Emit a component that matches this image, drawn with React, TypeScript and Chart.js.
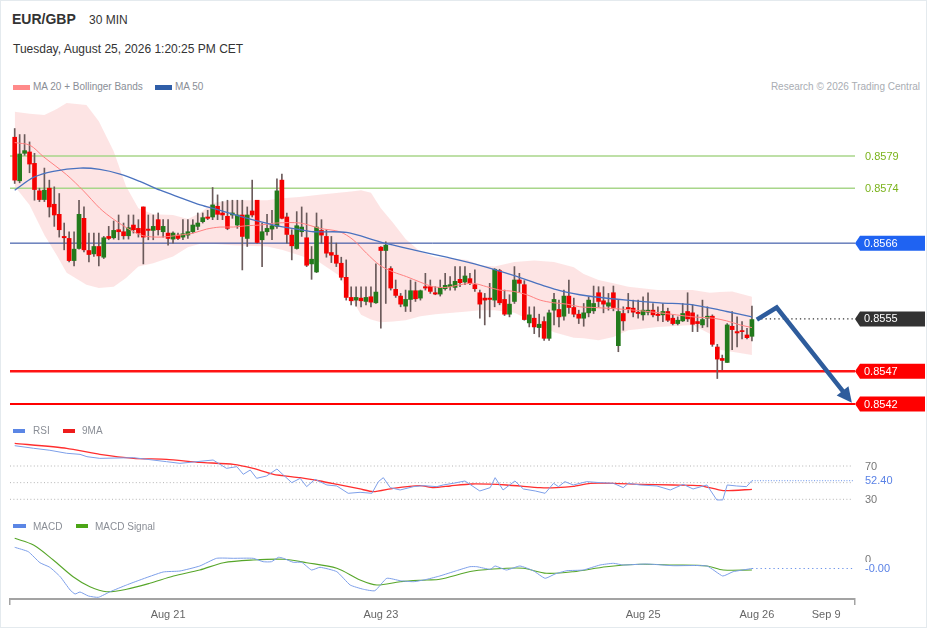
import React, { useEffect, useRef } from "react";
import { Chart, registerables } from "chart.js";

Chart.register(...registerables);

const FONT = '"Liberation Sans", Arial, Helvetica, sans-serif';
Chart.defaults.font.family = FONT;

// ---------------- DATA ----------------
const candleOpen = [
  0.85818, 0.85753, 0.85794, 0.85796, 0.85779, 0.85738, 0.85725, 0.85742, 0.85718, 0.85703,
  0.85670, 0.85667, 0.85634, 0.85652, 0.85697, 0.85649, 0.85644, 0.85655, 0.85639, 0.85670,
  0.85668, 0.85680, 0.85677, 0.85671, 0.85687, 0.85682, 0.85714, 0.85681, 0.85679, 0.85695,
  0.85677, 0.85675, 0.85666, 0.85672, 0.85669, 0.85672, 0.85677, 0.85685, 0.85692, 0.85699,
  0.85699, 0.85715, 0.85705, 0.85700, 0.85702, 0.85687, 0.85702, 0.85667, 0.85708, 0.85724,
  0.85665, 0.85677, 0.85681, 0.85685, 0.85754, 0.85699, 0.85672, 0.85652, 0.85677, 0.85668,
  0.85629, 0.85617, 0.85679, 0.85670, 0.85646, 0.85642, 0.85630, 0.85609, 0.85579, 0.85575,
  0.85578, 0.85573, 0.85580, 0.85571, 0.85654, 0.85649, 0.85622, 0.85591, 0.85581, 0.85566,
  0.85576, 0.85589, 0.85578, 0.85595, 0.85595, 0.85586, 0.85584, 0.85592, 0.85595, 0.85594,
  0.85606, 0.85602, 0.85607, 0.85598, 0.85586, 0.85578, 0.85578, 0.85575, 0.85619, 0.85576,
  0.85554, 0.85573, 0.85605, 0.85598, 0.85541, 0.85548, 0.85534, 0.85543, 0.85518, 0.85560,
  0.85561, 0.85551, 0.85581, 0.85564, 0.85554, 0.85548, 0.85556, 0.85559, 0.85586, 0.85574,
  0.85566, 0.85586, 0.85507, 0.85555, 0.85564, 0.85563, 0.85557, 0.85553, 0.85557, 0.85560,
  0.85554, 0.85553, 0.85558, 0.85548, 0.85540, 0.85544, 0.85558, 0.85556, 0.85543, 0.85538,
  0.85548, 0.85551, 0.85505, 0.85488, 0.85482, 0.85536, 0.85528, 0.85529, 0.85523, 0.85521,
];
const candleHigh = [
  0.85831, 0.85822, 0.85822, 0.85811, 0.85794, 0.85742, 0.85772, 0.85754, 0.85744, 0.85734,
  0.85690, 0.85677, 0.85677, 0.85724, 0.85714, 0.85675, 0.85675, 0.85675, 0.85670, 0.85685,
  0.85693, 0.85702, 0.85690, 0.85702, 0.85702, 0.85695, 0.85714, 0.85702, 0.85702, 0.85705,
  0.85695, 0.85695, 0.85677, 0.85675, 0.85695, 0.85695, 0.85695, 0.85705, 0.85705, 0.85709,
  0.85743, 0.85732, 0.85722, 0.85724, 0.85724, 0.85724, 0.85724, 0.85714, 0.85754, 0.85724,
  0.85690, 0.85703, 0.85709, 0.85756, 0.85763, 0.85705, 0.85680, 0.85707, 0.85714, 0.85705,
  0.85655, 0.85705, 0.85695, 0.85680, 0.85670, 0.85660, 0.85639, 0.85635, 0.85595, 0.85595,
  0.85595, 0.85595, 0.85595, 0.85629, 0.85655, 0.85662, 0.85625, 0.85605, 0.85585, 0.85590,
  0.85605, 0.85602, 0.85590, 0.85615, 0.85605, 0.85595, 0.85605, 0.85615, 0.85610, 0.85625,
  0.85625, 0.85625, 0.85615, 0.85620, 0.85590, 0.85585, 0.85600, 0.85622, 0.85621, 0.85590,
  0.85583, 0.85625, 0.85615, 0.85604, 0.85565, 0.85565, 0.85554, 0.85550, 0.85560, 0.85585,
  0.85575, 0.85590, 0.85605, 0.85578, 0.85560, 0.85570, 0.85580, 0.85596, 0.85595, 0.85595,
  0.85585, 0.85596, 0.85576, 0.85565, 0.85585, 0.85575, 0.85575, 0.85580, 0.85586, 0.85570,
  0.85565, 0.85570, 0.85563, 0.85553, 0.85550, 0.85570, 0.85586, 0.85568, 0.85553, 0.85575,
  0.85565, 0.85553, 0.85509, 0.85493, 0.85540, 0.85558, 0.85550, 0.85543, 0.85533, 0.85566,
];
const candleLow = [
  0.85749, 0.85750, 0.85791, 0.85765, 0.85724, 0.85722, 0.85722, 0.85699, 0.85685, 0.85669,
  0.85650, 0.85632, 0.85626, 0.85651, 0.85647, 0.85632, 0.85640, 0.85626, 0.85637, 0.85665,
  0.85666, 0.85665, 0.85666, 0.85666, 0.85675, 0.85669, 0.85629, 0.85665, 0.85665, 0.85672,
  0.85669, 0.85657, 0.85660, 0.85665, 0.85665, 0.85667, 0.85675, 0.85680, 0.85690, 0.85695,
  0.85695, 0.85695, 0.85695, 0.85680, 0.85697, 0.85682, 0.85620, 0.85655, 0.85699, 0.85660,
  0.85625, 0.85672, 0.85665, 0.85682, 0.85696, 0.85660, 0.85635, 0.85651, 0.85670, 0.85625,
  0.85606, 0.85616, 0.85660, 0.85639, 0.85631, 0.85625, 0.85605, 0.85575, 0.85568, 0.85566,
  0.85565, 0.85568, 0.85565, 0.85570, 0.85533, 0.85570, 0.85590, 0.85579, 0.85565, 0.85558,
  0.85558, 0.85573, 0.85575, 0.85590, 0.85585, 0.85583, 0.85581, 0.85590, 0.85590, 0.85590,
  0.85595, 0.85598, 0.85598, 0.85588, 0.85548, 0.85538, 0.85550, 0.85565, 0.85568, 0.85552,
  0.85550, 0.85570, 0.85587, 0.85545, 0.85535, 0.85525, 0.85520, 0.85515, 0.85515, 0.85538,
  0.85535, 0.85545, 0.85555, 0.85550, 0.85540, 0.85536, 0.85550, 0.85555, 0.85565, 0.85556,
  0.85560, 0.85559, 0.85498, 0.85530, 0.85556, 0.85550, 0.85548, 0.85545, 0.85553, 0.85550,
  0.85544, 0.85543, 0.85543, 0.85538, 0.85538, 0.85543, 0.85543, 0.85528, 0.85528, 0.85534,
  0.85535, 0.85506, 0.85458, 0.85471, 0.85482, 0.85501, 0.85505, 0.85517, 0.85517, 0.85514,
];
const candleClose = [
  0.85754, 0.85793, 0.85798, 0.85778, 0.85740, 0.85725, 0.85739, 0.85714, 0.85702, 0.85680,
  0.85668, 0.85634, 0.85651, 0.85703, 0.85650, 0.85643, 0.85655, 0.85641, 0.85668, 0.85667,
  0.85679, 0.85677, 0.85671, 0.85683, 0.85680, 0.85675, 0.85669, 0.85679, 0.85685, 0.85680,
  0.85685, 0.85667, 0.85675, 0.85667, 0.85674, 0.85677, 0.85687, 0.85690, 0.85698, 0.85697,
  0.85717, 0.85703, 0.85702, 0.85682, 0.85705, 0.85702, 0.85670, 0.85702, 0.85702, 0.85661,
  0.85677, 0.85682, 0.85686, 0.85738, 0.85697, 0.85673, 0.85656, 0.85686, 0.85684, 0.85627,
  0.85636, 0.85684, 0.85672, 0.85645, 0.85642, 0.85630, 0.85609, 0.85579, 0.85574, 0.85579,
  0.85574, 0.85579, 0.85572, 0.85587, 0.85649, 0.85657, 0.85593, 0.85582, 0.85569, 0.85576,
  0.85589, 0.85577, 0.85589, 0.85593, 0.85588, 0.85584, 0.85594, 0.85597, 0.85598, 0.85603,
  0.85601, 0.85611, 0.85600, 0.85592, 0.85569, 0.85575, 0.85576, 0.85621, 0.85571, 0.85554,
  0.85569, 0.85605, 0.85600, 0.85546, 0.85553, 0.85535, 0.85539, 0.85518, 0.85556, 0.85576,
  0.85550, 0.85581, 0.85564, 0.85554, 0.85548, 0.85556, 0.85575, 0.85570, 0.85573, 0.85569,
  0.85571, 0.85564, 0.85558, 0.85544, 0.85562, 0.85557, 0.85555, 0.85560, 0.85560, 0.85553,
  0.85552, 0.85558, 0.85545, 0.85540, 0.85545, 0.85555, 0.85547, 0.85539, 0.85540, 0.85546,
  0.85551, 0.85509, 0.85487, 0.85485, 0.85538, 0.85531, 0.85526, 0.85528, 0.85519, 0.85546,
];

const ma20Idx = [0, 3.1, 5.8, 10.5, 13.9, 17.2, 19.9, 23.3, 26, 29.4, 33.4, 36.1, 38.8, 41.5, 44.2, 46.9, 49.6, 52.9, 57.7, 61.7, 65.7, 68.4, 71.1, 73.8, 76.5, 79.2, 81.9, 84.6, 87.3, 90, 92.7, 95.4, 98, 100.8, 103.5, 106.2, 108.9, 111.6, 114.2, 117, 123.7, 130.4, 137.1, 141.2, 143.9, 146.6, 149];
const ma20Val = [0.85810, 0.85806, 0.85789, 0.85762, 0.85738, 0.85712, 0.85696, 0.85680, 0.85671, 0.85669, 0.85672, 0.85675, 0.85681, 0.85684, 0.85684, 0.85686, 0.85687, 0.85690, 0.85690, 0.85682, 0.85677, 0.85665, 0.85645, 0.85627, 0.85617, 0.85610, 0.85602, 0.85595, 0.85594, 0.85598, 0.85600, 0.85595, 0.85590, 0.85588, 0.85583, 0.85575, 0.85571, 0.85569, 0.85565, 0.85564, 0.85561, 0.85556, 0.85550, 0.85548, 0.85544, 0.85538, 0.85534];

const ma50Idx = [0, 3.8, 7.8, 13.2, 17.2, 21.3, 25.3, 29.4, 33.4, 37.5, 41.5, 45.6, 49.6, 53.6, 57.7, 60.4, 67.1, 73.8, 80.6, 87.3, 94, 100.8, 107.5, 110.2, 114.2, 117, 123.7, 130.4, 137.1, 143.9, 149];
const ma50Val = [0.85739, 0.85758, 0.85767, 0.85772, 0.85770, 0.85763, 0.85752, 0.85739, 0.85728, 0.85717, 0.85709, 0.85700, 0.85692, 0.85685, 0.85680, 0.85677, 0.85676, 0.85662, 0.85650, 0.85639, 0.85627, 0.85612, 0.85595, 0.85589, 0.85583, 0.85580, 0.85575, 0.85571, 0.85568, 0.85558, 0.85550];

const bandIdx = [0, 3, 6, 8.5, 10.5, 14.5, 17, 20, 22.5, 25, 28, 32, 35, 37.5, 40, 44, 51, 54, 57.5, 61.5, 65.5, 68, 70, 72, 74, 76.5, 79, 82, 85, 88.5, 91.5, 94, 97, 101, 105, 109, 113, 115, 118, 121, 124, 130, 137, 140.5, 142.5, 145, 149];
const bandUpper = [0.85856, 0.85853, 0.85851, 0.85860, 0.85869, 0.85866, 0.85842, 0.85797, 0.85745, 0.85712, 0.85703, 0.85702, 0.85696, 0.85705, 0.85720, 0.85724, 0.85724, 0.85727, 0.85729, 0.85732, 0.85735, 0.85737, 0.85739, 0.85735, 0.85712, 0.85690, 0.85666, 0.85647, 0.85639, 0.85637, 0.85635, 0.85627, 0.85625, 0.85632, 0.85634, 0.85632, 0.85624, 0.85614, 0.85605, 0.85600, 0.85595, 0.85590, 0.85590, 0.85586, 0.85587, 0.85588, 0.85580];
const bandLower = [0.85745, 0.85717, 0.85672, 0.85642, 0.85616, 0.85598, 0.85593, 0.85595, 0.85608, 0.85625, 0.85630, 0.85640, 0.85654, 0.85659, 0.85659, 0.85657, 0.85655, 0.85650, 0.85642, 0.85632, 0.85612, 0.85578, 0.85553, 0.85546, 0.85542, 0.85543, 0.85545, 0.85551, 0.85554, 0.85556, 0.85558, 0.85560, 0.85560, 0.85556, 0.85542, 0.85527, 0.85519, 0.85518, 0.85515, 0.85520, 0.85530, 0.85535, 0.85538, 0.85525, 0.85501, 0.85498, 0.85493];

const levelValues = [0.8579, 0.85742, 0.8566, 0.85547, 0.85469, 0.8542];
const levelLabels = ["0.8579", "0.8574", "0.8566", "0.8555", "0.8547", "0.8542"];

const arrowIdx = [150, 154, 169.2];
const arrowPrice = [0.85546, 0.85564, 0.85422];

const rsiIdx = [0, 3.8, 7.1, 10.5, 13.2, 14.6, 17.2, 24, 30.7, 33.4, 40.1, 42.8, 44.9, 46.2, 47.6, 48.9, 50.9, 53, 54.3, 56, 57.7, 59, 60.7, 63.1, 65.1, 67.4, 69.8, 72.2, 73.5, 74.5, 75.9, 77.9, 80.6, 82.6, 85.3, 86.6, 88.6, 91, 94, 96.1, 97.1, 98.7, 101.1, 102.8, 105.2, 107.2, 108.9, 109.9, 111.2, 112.9, 115.6, 118.3, 121, 123, 124, 126.4, 129.8, 132.5, 135.1, 137.1, 139.9, 141.9, 143.1, 144, 145.9, 147.9, 149];
const rsiVal = [94.4, 91.3, 88.9, 85.3, 84, 81.2, 79.2, 80, 75.2, 73.2, 77.2, 67.2, 69.2, 60, 65.2, 55.2, 58, 66.4, 59.2, 50, 55.2, 45.2, 54, 47.2, 46, 37.2, 38.4, 37.2, 51.2, 56, 44, 41.2, 45.2, 46.4, 45.2, 47.2, 49.2, 52, 40, 44, 56, 41.2, 52, 42.4, 40, 37.2, 49.2, 45.2, 51.2, 47.2, 51.2, 50, 49.2, 44, 49.2, 47.2, 46, 41.2, 48, 42.4, 47.2, 29.2, 29.2, 47.2, 46, 45.2, 52.4];
const rsiMaIdx = [0, 10.5, 17.2, 24, 30.7, 37.4, 44.2, 48.2, 52.3, 57.7, 61.7, 65.7, 69.8, 72.5, 76.5, 81.9, 84.6, 88, 92.3, 99.4, 106.2, 109.5, 112.9, 116.3, 121, 126.4, 133.1, 138.5, 143.2, 149];
const rsiMaVal = [97.2, 91.3, 84, 79.2, 78, 74.4, 72, 67.2, 60, 56, 52, 47.2, 42.4, 39.2, 43.2, 46.4, 44, 46, 48.4, 47.2, 44, 44, 45.6, 49.2, 49.2, 48, 47.2, 46.4, 40.4, 42];
const rsiLevels = [70, 50, 30];
const rsiLast = 52.4;

const macdIdx = [0, 2.75, 5.1, 7.1, 9.2, 11.2, 12.2, 13.2, 14.9, 16.9, 19.3, 22.6, 25.3, 30, 33.4, 37.4, 40.8, 44.2, 48.2, 50.2, 51.9, 53.3, 54.3, 56.3, 58, 60, 61.7, 65.1, 67.8, 70.5, 72.8, 75.2, 77.9, 80.6, 83.3, 85.9, 89.3, 92, 93.4, 96.1, 97.1, 99.4, 102.1, 104.8, 107.2, 109.2, 111.6, 114.9, 118.3, 121, 123, 127.7, 133.1, 139.9, 143.1, 145.2, 149];
const macdVal = [0.000137, 0.000093, -0.000017, -0.000063, -0.000157, -0.00029, -0.00033, -0.00031, -0.00035, -0.000363, -0.000307, -0.00024, -0.00019, -0.00011, -0.0001, -0.00005, 0.000027, 0.000027, 0.000027, -0.000007, -0.000007, 0.000037, 0.000027, -0.000013, -0.000013, -0.00009, -0.000063, -0.000107, -0.00024, -0.000283, -0.000297, -0.000173, -0.000197, -0.000207, -0.000183, -0.00015, -0.000097, -0.000057, -0.000057, -0.000083, -0.00005, -0.00009, -0.00005, -0.000097, -0.000173, -0.00013, -0.000097, -0.00009, -0.00004, -0.000023, -0.00004, -0.00003, -0.000047, -0.00005, -0.00015, -0.000107, -0.000075];
const signalIdx = [0, 3.8, 7.8, 11.8, 15.2, 18.6, 22.6, 27.3, 32.1, 37.4, 42.2, 48.2, 54.3, 59, 65.1, 69.8, 73.2, 77.9, 83.3, 85.9, 92.7, 99.4, 102.8, 107.5, 112.9, 119.6, 126.4, 133.1, 139.9, 143.2, 149];
const signalVal = [0.000227, 0.00016, 0.00001, -0.000157, -0.000257, -0.000307, -0.000283, -0.000223, -0.00015, -0.00009, -0.000017, 0.00001, 0.000017, -0.000017, -0.000073, -0.00019, -0.00024, -0.000207, -0.00019, -0.000183, -0.0001, -0.000073, -0.000073, -0.000123, -0.000107, -0.000057, -0.000033, -0.00004, -0.00005, -0.00009, -0.00009];
const macdLast = -0.000075;

const xTickIdx = [31, 74, 127, 150, 164];
const xTickLabels = ["Aug 21", "Aug 23", "Aug 25", "Aug 26", "Sep 9"];

// ---------------- LAYOUT / STYLE ----------------
const X_MIN = -0.95;
const X_MAX = 169.83;
const X_LINE_END = 169.4;
const PRICE_MIN = 0.854036;
const PRICE_MAX = 0.85881;
const RSI_MIN = 17.15;
const RSI_MAX = 125.26;
const MACD_MIN = -0.00038;
const MACD_MAX = 0.00031;
const PAD = { left: 10, right: 74 };
const ARROW_COLOR = "#2e5c9c";
const UP_COLOR = "#237a1c";
const DOWN_COLOR = "#f50000";
const levelStyles = [
  { line: "#a8d68a", width: 1.5, text: "#7bb31c" },
  { line: "#a8d68a", width: 1.5, text: "#7bb31c" },
  { line: "#1d3f9a", width: 1, tag: "#1f63f2" },
  { line: "#333333", width: 1.2, tag: "#333333", dotted: true },
  { line: "#ff1414", width: 2.5, tag: "#ff0000" },
  { line: "#ff0000", width: 2.2, tag: "#ff0000" },
];

const pts = (xs: number[], ys: number[]) => xs.map((x, i) => ({ x, y: ys[i] }));

const tagsPlugin = {
  id: "tags",
  afterDatasetsDraw(chart: any, _a: any, opts: any) {
    const items = (opts && opts.items) || [];
    const { ctx, chartArea, scales } = chart;
    const ys = scales.y;
    ctx.save();
    ctx.font = `11px ${FONT}`;
    ctx.textBaseline = "middle";
    ctx.textAlign = "left";
    for (const it of items) {
      const py = ys.getPixelForValue(it.value);
      const x0 = chartArea.right;
      if (it.tag) {
        const x1 = chart.width - 4;
        ctx.fillStyle = it.tag;
        ctx.beginPath();
        ctx.moveTo(x0, py);
        ctx.lineTo(x0 + 5, py - 7.5);
        ctx.lineTo(x1, py - 7.5);
        ctx.lineTo(x1, py + 7.5);
        ctx.lineTo(x0 + 5, py + 7.5);
        ctx.closePath();
        ctx.fill();
        ctx.fillStyle = "#ffffff";
        ctx.fillText(it.text, x0 + 9, py + 0.5);
      } else {
        const tx = x0 + 10;
        if (it.bg) {
          const w = ctx.measureText(it.text).width;
          ctx.fillStyle = it.bg;
          ctx.fillRect(tx - 2, py - 6.5, w + 4, 13);
        }
        ctx.fillStyle = it.color;
        ctx.fillText(it.text, tx, py + 0.5);
      }
    }
    ctx.restore();
  },
};

const arrowPlugin = {
  id: "arrow",
  afterDatasetsDraw(chart: any) {
    const { ctx, scales } = chart;
    const p = arrowIdx.map((v, i) => [scales.x.getPixelForValue(v), scales.y.getPixelForValue(arrowPrice[i])]);
    const n = p.length;
    const [tx, ty] = p[n - 1];
    const [px, py] = p[n - 2];
    const L = Math.hypot(tx - px, ty - py);
    const ux = (tx - px) / L;
    const uy = (ty - py) / L;
    const head = 15;
    const half = 7.5;
    const bx = tx - ux * head;
    const by = ty - uy * head;
    ctx.save();
    ctx.strokeStyle = ARROW_COLOR;
    ctx.lineWidth = 4.5;
    ctx.lineJoin = "miter";
    ctx.lineCap = "butt";
    ctx.beginPath();
    ctx.moveTo(p[0][0], p[0][1]);
    for (let i = 1; i < n - 1; i++) ctx.lineTo(p[i][0], p[i][1]);
    ctx.lineTo(bx + ux * 2, by + uy * 2);
    ctx.stroke();
    ctx.fillStyle = ARROW_COLOR;
    ctx.beginPath();
    ctx.moveTo(tx, ty);
    ctx.lineTo(bx - uy * half, by + ux * half);
    ctx.lineTo(bx + uy * half, by - ux * half);
    ctx.closePath();
    ctx.fill();
    ctx.restore();
  },
};

const hiddenX = { type: "linear", min: X_MIN, max: X_MAX, display: false, offset: false };

export default function App() {
  const mainRef = useRef<HTMLCanvasElement>(null);
  const rsiRef = useRef<HTMLCanvasElement>(null);
  const macdRef = useRef<HTMLCanvasElement>(null);

  useEffect(() => {
    const charts: Chart[] = [];
    const idx = candleOpen.map((_, i) => i);
    const bodyColors = idx.map((i) => (candleClose[i] >= candleOpen[i] ? UP_COLOR : DOWN_COLOR));

    const levelSets: any[] = levelValues.map((v, i) => {
      const st: any = levelStyles[i];
      return {
        type: "line",
        data: st.dotted ? [{ x: 150, y: v }, { x: X_MAX, y: v }] : [{ x: X_MIN, y: v }, { x: X_MAX, y: v }],
        borderColor: st.line,
        borderWidth: st.width,
        borderDash: st.dotted ? [1.3, 3] : [],
        pointRadius: 0,
        fill: false,
        order: st.dotted ? 5 : 50,
      };
    });

    const main = new Chart(mainRef.current as HTMLCanvasElement, {
      type: "bar",
      data: {
        datasets: [
          {
            type: "line",
            data: pts(bandIdx, bandUpper),
            borderColor: "rgba(0,0,0,0)",
            borderWidth: 0,
            pointRadius: 0,
            backgroundColor: "rgba(251,196,196,0.45)",
            fill: "+1",
            order: 100,
          } as any,
          {
            type: "line",
            data: pts(bandIdx, bandLower),
            borderColor: "rgba(0,0,0,0)",
            borderWidth: 0,
            pointRadius: 0,
            fill: false,
            order: 101,
          } as any,
          ...levelSets,
          {
            type: "bar",
            data: idx.map((i) => ({ x: i, y: [candleLow[i], candleHigh[i]] })),
            backgroundColor: "#6a5a5a",
            barThickness: 1,
            grouped: false,
            order: 30,
          } as any,
          {
            type: "bar",
            data: idx.map((i) => ({ x: i, y: [Math.min(candleOpen[i], candleClose[i]), Math.max(candleOpen[i], candleClose[i])] })),
            backgroundColor: bodyColors,
            barThickness: 4,
            minBarLength: 1,
            grouped: false,
            order: 20,
          } as any,
          {
            type: "line",
            data: pts(ma20Idx, ma20Val),
            borderColor: "#ff8080",
            borderWidth: 1,
            pointRadius: 0,
            tension: 0.3,
            fill: false,
            order: 12,
          } as any,
          {
            type: "line",
            data: pts(ma50Idx, ma50Val),
            borderColor: "#4a72bf",
            borderWidth: 1.3,
            pointRadius: 0,
            tension: 0.3,
            fill: false,
            order: 11,
          } as any,
        ],
      },
      options: {
        responsive: false,
        animation: false,
        events: [],
        layout: { padding: { left: PAD.left, right: PAD.right, top: 0, bottom: 0 } },
        plugins: {
          legend: { display: false },
          tooltip: { enabled: false },
          tags: {
            items: levelValues.map((v, i) => {
              const st: any = levelStyles[i];
              return st.tag ? { value: v, text: levelLabels[i], tag: st.tag } : { value: v, text: levelLabels[i], color: st.text };
            }),
          },
        } as any,
        scales: {
          x: hiddenX as any,
          y: { type: "linear", min: PRICE_MIN, max: PRICE_MAX, display: false },
        },
      },
      plugins: [tagsPlugin as any, arrowPlugin as any],
    });
    charts.push(main);

    const rsi = new Chart(rsiRef.current as HTMLCanvasElement, {
      type: "line",
      data: {
        datasets: [
          ...rsiLevels.map((v) => ({
            data: [{ x: X_MIN, y: v }, { x: X_LINE_END, y: v }],
            borderColor: "#b4b4b4",
            borderWidth: 1,
            borderDash: [1, 2.4],
            pointRadius: 0,
            order: 50,
          })),
          {
            data: [{ x: 149, y: rsiLast }, { x: X_LINE_END, y: rsiLast }],
            borderColor: "#86a8ee",
            borderWidth: 1.2,
            borderDash: [1, 1.7],
            pointRadius: 0,
            order: 40,
          },
          {
            data: pts(rsiMaIdx, rsiMaVal),
            borderColor: "#ff2e2e",
            borderWidth: 1.3,
            pointRadius: 0,
            tension: 0.2,
            order: 20,
          },
          {
            data: pts(rsiIdx, rsiVal),
            borderColor: "#7d9fe9",
            borderWidth: 1,
            pointRadius: 0,
            tension: 0,
            order: 10,
          },
        ] as any,
      },
      options: {
        responsive: false,
        animation: false,
        events: [],
        layout: { padding: { left: PAD.left, right: PAD.right, top: 0, bottom: 0 } },
        plugins: {
          legend: { display: false },
          tooltip: { enabled: false },
          tags: {
            items: [
              { value: 70, text: "70", color: "#777777" },
              { value: 30, text: "30", color: "#777777" },
              { value: rsiLast, text: "52.40", color: "#5a82e6", bg: "#ffffff" },
            ],
          },
        } as any,
        scales: {
          x: hiddenX as any,
          y: { type: "linear", min: RSI_MIN, max: RSI_MAX, display: false },
        },
      },
      plugins: [tagsPlugin as any],
    });
    charts.push(rsi);

    const lastTick = xTickIdx.length + 1;
    const macd = new Chart(macdRef.current as HTMLCanvasElement, {
      type: "line",
      data: {
        datasets: [
          {
            data: [{ x: 149, y: macdLast }, { x: X_LINE_END, y: macdLast }],
            borderColor: "#6f95ea",
            borderWidth: 1.2,
            borderDash: [1.3, 3],
            pointRadius: 0,
            order: 40,
          },
          {
            data: pts(signalIdx, signalVal),
            borderColor: "#57a62a",
            borderWidth: 1.1,
            pointRadius: 0,
            tension: 0.3,
            order: 20,
          },
          {
            data: pts(macdIdx, macdVal),
            borderColor: "#7d9fe9",
            borderWidth: 1,
            pointRadius: 0,
            tension: 0.15,
            order: 10,
          },
        ] as any,
      },
      options: {
        responsive: false,
        animation: false,
        events: [],
        layout: { padding: { left: PAD.left, right: PAD.right, top: 10, bottom: 0 } },
        plugins: {
          legend: { display: false },
          tooltip: { enabled: false },
          tags: {
            items: [
              { value: 0.000012, text: "0", color: "#777777" },
              { value: macdLast, text: "-0.00", color: "#5a82e6", bg: "#ffffff" },
            ],
          },
        } as any,
        scales: {
          x: {
            type: "linear",
            min: X_MIN,
            max: X_MAX,
            offset: false,
            afterBuildTicks: (sc: any) => {
              sc.ticks = [X_MIN, ...xTickIdx, X_MAX].map((v) => ({ value: v }));
            },
            afterFit: (sc: any) => {
              sc.height = 30;
              sc.paddingLeft = 0;
              sc.paddingRight = 0;
            },
            ticks: {
              autoSkip: false,
              maxRotation: 0,
              minRotation: 0,
              padding: 3,
              color: "#666666",
              font: { family: FONT, size: 11 },
              callback: (_v: any, i: number) => (i === 0 || i === lastTick ? "" : xTickLabels[i - 1]),
            },
            grid: {
              display: true,
              drawOnChartArea: false,
              drawTicks: true,
              tickLength: 6,
              lineWidth: 1.5,
              color: (c: any) => (c.index === 0 || c.index === lastTick ? "#a3a3a3" : "rgba(0,0,0,0)"),
            },
            border: { display: true, color: "#a3a3a3", width: 2 },
          } as any,
          y: { type: "linear", min: MACD_MIN, max: MACD_MAX, display: false },
        },
      },
      plugins: [tagsPlugin as any],
    });
    charts.push(macd);

    return () => charts.forEach((c) => c.destroy());
  }, []);

  const text = (left: number, top: number, size: number, color: string, weight = 400): React.CSSProperties => ({
    position: "absolute",
    left,
    top,
    fontSize: size,
    lineHeight: `${size}px`,
    color,
    fontWeight: weight,
    fontFamily: FONT,
    whiteSpace: "nowrap",
  });
  const sw = (left: number, top: number, w: number, h: number, bg: string): React.CSSProperties => ({
    position: "absolute",
    left,
    top,
    width: w,
    height: h,
    background: bg,
  });

  return (
    <div style={{ position: "absolute", left: 0, top: 0, width: 929, height: 629, background: "#ffffff", overflow: "hidden" }}>
      <div style={{ position: "absolute", left: 0, top: 0, width: 927, height: 628, border: "1px solid #e4eaee", boxSizing: "border-box" }} />
      <canvas ref={mainRef} width={929} height={320} style={{ position: "absolute", left: 0, top: 95, width: 929, height: 320 }} />
      <canvas ref={rsiRef} width={929} height={90} style={{ position: "absolute", left: 0, top: 420, width: 929, height: 90 }} />
      <canvas ref={macdRef} width={929} height={109} style={{ position: "absolute", left: 0, top: 520, width: 929, height: 109 }} />

      <div style={text(12, 12.3, 14, "#333333", 700)}>EUR/GBP</div>
      <div style={text(89, 13.6, 12, "#333333")}>30 MIN</div>
      <div style={text(13, 42.8, 12, "#333333")}>Tuesday, August 25, 2026 1:20:25 PM CET</div>

      <div style={sw(13, 84.5, 17, 5.5, "#ff8a8a")} />
      <div style={text(33, 82, 10, "#8a8e96")}>MA 20 + Bollinger Bands</div>
      <div style={sw(155, 84.5, 17, 5.5, "#2f5ea8")} />
      <div style={text(175, 82, 10, "#8a8e96")}>MA 50</div>
      <div style={{ ...text(0, 82, 10, "#a9adb3"), left: "auto", right: 9 }}>Research © 2026 Trading Central</div>

      <div style={sw(13, 428.8, 12, 4.5, "#5b86e5")} />
      <div style={text(33, 426.3, 10, "#8a8e96")}>RSI</div>
      <div style={sw(62.5, 428.8, 12, 4.5, "#ee1c1c")} />
      <div style={text(82, 426.3, 10, "#8a8e96")}>9MA</div>

      <div style={sw(13, 523.8, 13, 4.5, "#5b86e5")} />
      <div style={text(33, 521.5, 10, "#8a8e96")}>MACD</div>
      <div style={sw(76, 523.8, 11.5, 4.5, "#4ba516")} />
      <div style={text(95, 521.5, 10, "#8a8e96")}>MACD Signal</div>
    </div>
  );
}
